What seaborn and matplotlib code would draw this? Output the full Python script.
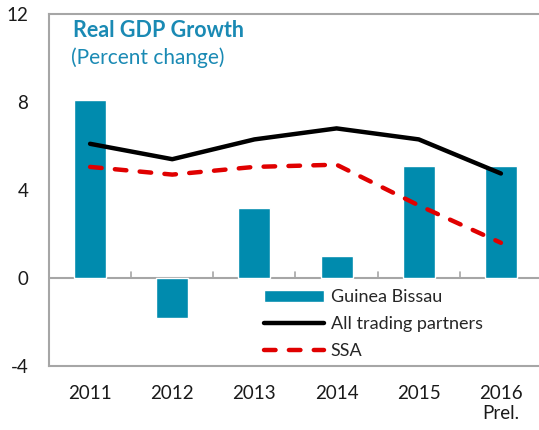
import matplotlib
matplotlib.use("Agg")
import matplotlib.pyplot as plt
import seaborn as sns
import pandas as pd

# Data
years = ["2011", "2012", "2013", "2014", "2015", "2016\nPrel."]
guinea_bissau = [8.1, -1.8, 3.2, 1.0, 5.1, 5.1]
all_partners = [6.1, 5.4, 6.3, 6.8, 6.3, 4.75]
ssa = [5.05, 4.7, 5.05, 5.15, 3.3, 1.6]

sns.set_style("white")
plt.rcParams['font.family'] = ['Lato', 'DejaVu Sans']

bar_col = '#008BAE'
title_col = '#1A8AB4'

df = pd.DataFrame({'year': years, 'gb': guinea_bissau})

fig = plt.figure(figsize=(5.39, 4.30), dpi=100)
ax = fig.add_axes([49 / 539, 1 - 366 / 430, 493 / 539, 352 / 430])

sns.barplot(data=df, x='year', y='gb', color=bar_col, width=0.39,
            saturation=1, ax=ax, label='Guinea Bissau', zorder=2)
x = list(range(len(years)))
ax.plot(x, all_partners, color='black', lw=3.2, solid_capstyle='round',
        label='All trading partners', zorder=3)
ax.plot(x, ssa, color='#E00000', lw=3.2, ls=(0, (2.6, 3.0)),
        dash_capstyle='round', label='SSA', zorder=3)

ax.set_ylim(-4, 12)
ax.set_xlim(-0.5, len(years) - 0.5)
ax.set_yticks([-4, 0, 4, 8, 12])
ax.set_yticklabels(['-4', '0', '4', '8', '12'])
ax.set_xlabel('')
ax.set_ylabel('')

for s in ['left', 'top', 'bottom', 'right']:
    ax.spines[s].set_color('#A6A6A6')
    ax.spines[s].set_linewidth(1.5)

# zero line with small ticks between categories
ax.axhline(0, color='#A6A6A6', lw=1.5, zorder=1)
for i in range(len(years) - 1):
    ax.plot([i + 0.5, i + 0.5], [0, 0.28], color='#A6A6A6', lw=1.2, zorder=1)

ax.tick_params(axis='both', length=0, labelsize=13.5, colors='#1a1a1a')
ax.tick_params(axis='y', pad=15)
ax.tick_params(axis='x', pad=14)

ax.text(0.049, 0.952, 'Real GDP Growth', transform=ax.transAxes,
        fontsize=15.5, fontweight='bold', color=title_col, va='center')
ax.text(0.045, 0.875, '(Percent change)', transform=ax.transAxes,
        fontsize=15, color=title_col, va='center')

handles, labels = ax.get_legend_handles_labels()
order = [labels.index(n) for n in ['Guinea Bissau', 'All trading partners', 'SSA']]
ax.legend([handles[i] for i in order], [labels[i] for i in order],
          loc='upper left', bbox_to_anchor=(0.436, 0.218), frameon=False,
          fontsize=13, handlelength=3.3, handletextpad=0.39,
          labelspacing=0.6, borderaxespad=0, borderpad=0)

fig.savefig('out.png', dpi=100)
